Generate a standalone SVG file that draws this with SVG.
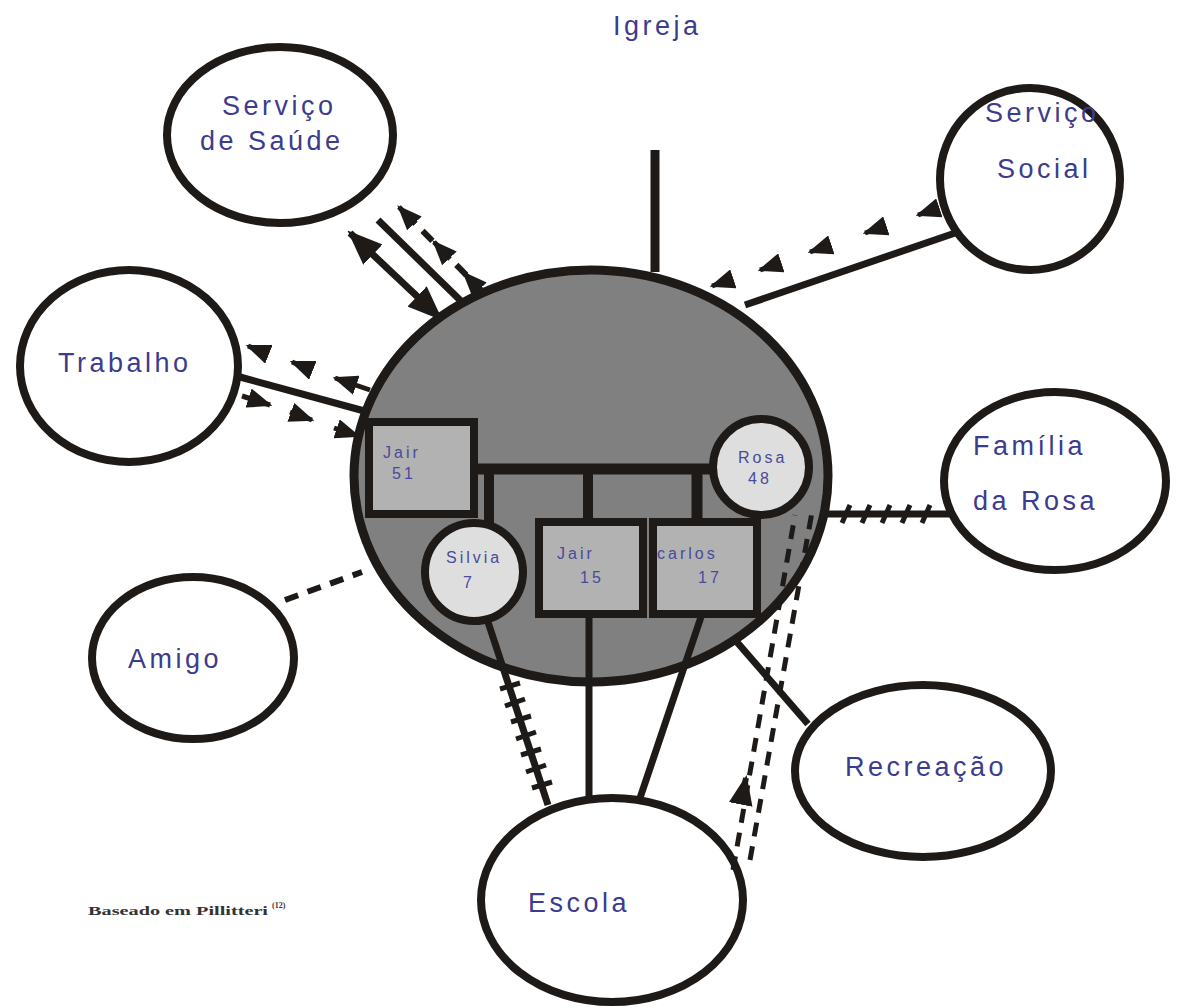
<svg xmlns="http://www.w3.org/2000/svg" width="1193" height="1008" viewBox="0 0 1193 1008">
<defs>
<style>
.sys{fill:#ffffff;stroke:#1e1a18;stroke-width:8}
.fam{fill:#808080;stroke:#1e1a18;stroke-width:9}
.male{fill:#b2b2b2;stroke:#1e1a18;stroke-width:8}
.female{fill:#dedede;stroke:#1e1a18;stroke-width:8}
.ln{stroke:#1e1a18;stroke-width:7;fill:none;stroke-linecap:butt}
.famln{stroke:#1e1a18;stroke-width:11;fill:none}
.dash{stroke:#1e1a18;stroke-width:6;fill:none;stroke-dasharray:14 10}
.ad{stroke:#1e1a18;stroke-width:5;fill:none;marker-end:url(#ah)}
.tick{stroke:#1e1a18;stroke-width:5;fill:none}
.lbl{font-family:"Liberation Sans",Arial,sans-serif;font-size:27px;fill:#3c3c8e;letter-spacing:3.5px}
.sm{font-family:"Liberation Sans",Arial,sans-serif;font-size:16px;fill:#4a4a9a;letter-spacing:3px}
.note{font-family:"Liberation Serif","Times New Roman",serif;font-size:12px;font-weight:bold;fill:#333333}
</style>
<marker id="ah" viewBox="0 0 10 8" refX="9" refY="4" markerWidth="5" markerHeight="4" orient="auto">
<path d="M0,0 L10,4 L0,8 z" fill="#1e1a18"/>
</marker>
<marker id="ahs" viewBox="0 0 10 8" refX="1" refY="4" markerWidth="5" markerHeight="4" orient="auto">
<path d="M10,0 L0,4 L10,8 z" fill="#1e1a18"/>
</marker>
</defs>
<rect width="1193" height="1008" fill="#ffffff"/>

<g id="saude"><ellipse class="sys" cx="280" cy="135" rx="113" ry="88"/>
<text class="lbl" x="222" y="115">Serviço</text><text class="lbl" x="200" y="150">de Saúde</text></g>
<g id="social"><ellipse class="sys" cx="1030" cy="179" rx="90" ry="91"/>
<text class="lbl" x="985" y="122">Serviço</text><text class="lbl" x="997" y="178">Social</text></g>
<g id="trabalho"><ellipse class="sys" cx="129" cy="366" rx="109" ry="96"/>
<text class="lbl" x="58" y="372">Trabalho</text></g>
<g id="familia-rosa"><ellipse class="sys" cx="1055" cy="481" rx="111" ry="89"/>
<text class="lbl" x="973" y="455">Família</text><text class="lbl" x="973" y="510">da Rosa</text></g>
<g id="amigo"><ellipse class="sys" cx="193" cy="658" rx="101" ry="81"/>
<text class="lbl" x="128" y="668">Amigo</text></g>
<g id="recreacao"><ellipse class="sys" cx="923" cy="771" rx="128" ry="86"/>
<text class="lbl" x="845" y="776">Recreação</text></g>
<g id="escola"><ellipse class="sys" cx="612" cy="900" rx="131" ry="102"/>
<text class="lbl" x="528" y="912">Escola</text></g>
<g id="igreja"><text class="lbl" x="613" y="35">Igreja</text></g>

<g id="familia"><ellipse class="fam" cx="591" cy="476" rx="237" ry="206"/></g>

<g id="connectors">
<line class="ln" x1="655" y1="150" x2="655" y2="272" style="stroke-width:9"/>
<line class="ln" x1="440" y1="318" x2="350" y2="233" style="marker-end:url(#ah);marker-start:url(#ahs)"/>
<line class="ln" x1="462" y1="302" x2="378" y2="220"/>
<line class="dash" x1="483" y1="292" x2="400" y2="208"/>
<line class="ad" x1="415" y1="224" x2="399" y2="207"/>
<line class="ad" x1="450" y1="259" x2="434" y2="242"/>
<line class="ad" x1="480" y1="290" x2="464" y2="273"/>
<line class="ln" x1="745" y1="305" x2="958" y2="232"/>
<line class="ad" x1="939" y1="208" x2="918" y2="215"/>
<line class="ad" x1="886" y1="226" x2="865" y2="233"/>
<line class="ad" x1="831" y1="245" x2="810" y2="252"/>
<line class="ad" x1="781" y1="263" x2="760" y2="270"/>
<line class="ad" x1="733" y1="279" x2="712" y2="286"/>
<line class="ad" x1="268" y1="354" x2="248" y2="346"/>
<line class="ad" x1="312" y1="370" x2="292" y2="362"/>
<line class="ad" x1="370" y1="390" x2="335" y2="378"/>
<line class="ln" x1="240" y1="377" x2="368" y2="412"/>
<line class="ad" x1="242" y1="396" x2="270" y2="405"/>
<line class="ad" x1="290" y1="412" x2="312" y2="420"/>
<line class="ad" x1="334" y1="428" x2="358" y2="436"/>
<line class="dash" x1="285" y1="600" x2="362" y2="572"/>
<line class="ln" x1="826" y1="514" x2="950" y2="514"/>
<path class="tick" d="M842,523 L850,505 M862,523 L870,505 M882,523 L890,505 M902,523 L910,505 M922,523 L930,505"/>
<line class="ln" x1="736" y1="641" x2="808" y2="724"/>
<line class="ln" x1="589" y1="617" x2="589" y2="798"/>
<line class="ln" x1="701" y1="617" x2="640" y2="798"/>
<line class="ln" x1="488" y1="622" x2="548" y2="805"/>
<path class="tick" d="M500,689 L520,683 M505,706 L525,699 M511,722 L531,716 M516,739 L536,732 M521,755 L541,749 M526,772 L546,765 M532,788 L552,782"/>
<line class="dash" x1="733" y1="870" x2="795" y2="515" style="stroke-width:5"/>
<line class="dash" x1="750" y1="860" x2="812" y2="512" style="stroke-width:5"/>
<line class="ad" x1="741" y1="803" x2="746" y2="778" style="stroke-width:6"/>
<line class="famln" x1="476" y1="469" x2="712" y2="469"/>
<line class="famln" x1="489" y1="469" x2="489" y2="526" style="stroke-width:10"/>
<line class="famln" x1="588" y1="469" x2="588" y2="520" style="stroke-width:10"/>
<line class="famln" x1="697" y1="469" x2="697" y2="520" style="stroke-width:11"/>
</g>

<g id="jair51"><rect class="male" x="369" y="422" width="105" height="92"/>
<text class="sm" x="383" y="458">Jair</text><text class="sm" x="392" y="479">51</text></g>
<g id="rosa48"><circle class="female" cx="761" cy="467" r="48"/>
<text class="sm" x="738" y="463">Rosa</text><text class="sm" x="748" y="484">48</text></g>
<g id="silvia7"><circle class="female" cx="474" cy="572" r="49"/>
<text class="sm" x="446" y="563">Silvia</text><text class="sm" x="463" y="588">7</text></g>
<g id="jair15"><rect class="male" x="539" y="522" width="104" height="92"/>
<text class="sm" x="557" y="559">Jair</text><text class="sm" x="580" y="583">15</text></g>
<g id="carlos17"><rect class="male" x="653" y="522" width="104" height="92"/>
<text class="sm" x="657" y="559">carlos</text><text class="sm" x="698" y="583">17</text></g>

<g id="fonte"><text class="note" x="88" y="915" textLength="180" lengthAdjust="spacingAndGlyphs">Baseado em Pillitteri</text><text class="note" x="272" y="908" style="font-size:8px">(12)</text></g>
</svg>
